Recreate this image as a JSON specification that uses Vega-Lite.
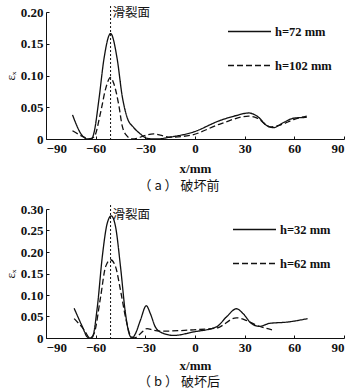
{
  "$schema": "https://vega.github.io/schema/vega-lite/v6.json",
  "padding": {"left": 4, "top": 5, "right": 0, "bottom": 0},
  "spacing": 10,
  "config": {
    "view": {"stroke": null},
    "font": "Liberation Serif",
    "axis": {"labelFont": "Liberation Serif", "labelFontSize": 13, "labelFontWeight": "bold", "labelColor": "#111", "titleFont": "Liberation Serif", "titleFontSize": 13, "titleFontWeight": "bold", "titleColor": "#111", "domainColor": "#111", "tickColor": "#111", "grid": false, "tickSize": -3, "labelPadding": 6, "titlePadding": 7},
    "legend": {"labelFont": "Liberation Serif", "labelFontSize": 12.5, "labelFontWeight": "bold", "labelColor": "#111", "symbolType": "stroke", "symbolStrokeColor": "#111", "symbolStrokeWidth": 1.3, "symbolSize": 1849, "orient": "none", "title": null, "rowPadding": 5, "labelOffset": 3, "padding": 0},
    "title": {"font": "Noto Sans CJK SC", "fontSize": 13, "fontWeight": "normal", "color": "#111", "orient": "bottom", "offset": 5, "dx": -16}
  },
  "datasets": {
    "a": [
      {"x": -74, "y": 0.038, "s": "h=72 mm"},
      {"x": -68, "y": 0.005, "s": "h=72 mm"},
      {"x": -65, "y": 0.0, "s": "h=72 mm"},
      {"x": -62.5, "y": 0.0, "s": "h=72 mm"},
      {"x": -61, "y": 0.01, "s": "h=72 mm"},
      {"x": -58, "y": 0.063, "s": "h=72 mm"},
      {"x": -55, "y": 0.126, "s": "h=72 mm"},
      {"x": -51, "y": 0.166, "s": "h=72 mm"},
      {"x": -47, "y": 0.126, "s": "h=72 mm"},
      {"x": -44, "y": 0.068, "s": "h=72 mm"},
      {"x": -41, "y": 0.034, "s": "h=72 mm"},
      {"x": -37, "y": 0.018, "s": "h=72 mm"},
      {"x": -33, "y": 0.008, "s": "h=72 mm"},
      {"x": -29, "y": 0.001, "s": "h=72 mm"},
      {"x": -23, "y": 0.0, "s": "h=72 mm"},
      {"x": -15, "y": 0.003, "s": "h=72 mm"},
      {"x": -1, "y": 0.011, "s": "h=72 mm"},
      {"x": 15, "y": 0.029, "s": "h=72 mm"},
      {"x": 25, "y": 0.037, "s": "h=72 mm"},
      {"x": 32.5, "y": 0.041, "s": "h=72 mm"},
      {"x": 37.5, "y": 0.036, "s": "h=72 mm"},
      {"x": 43.5, "y": 0.021, "s": "h=72 mm"},
      {"x": 47.5, "y": 0.018, "s": "h=72 mm"},
      {"x": 53.5, "y": 0.026, "s": "h=72 mm"},
      {"x": 60, "y": 0.033, "s": "h=72 mm"},
      {"x": 67.5, "y": 0.034, "s": "h=72 mm"},
      {"x": -74, "y": 0.013, "s": "h=102 mm"},
      {"x": -67, "y": 0.003, "s": "h=102 mm"},
      {"x": -64, "y": 0.0, "s": "h=102 mm"},
      {"x": -61, "y": 0.003, "s": "h=102 mm"},
      {"x": -57, "y": 0.042, "s": "h=102 mm"},
      {"x": -54, "y": 0.079, "s": "h=102 mm"},
      {"x": -51, "y": 0.097, "s": "h=102 mm"},
      {"x": -49, "y": 0.087, "s": "h=102 mm"},
      {"x": -46, "y": 0.053, "s": "h=102 mm"},
      {"x": -44, "y": 0.021, "s": "h=102 mm"},
      {"x": -41.5, "y": 0.006, "s": "h=102 mm"},
      {"x": -38, "y": 0.0, "s": "h=102 mm"},
      {"x": -35, "y": 0.001, "s": "h=102 mm"},
      {"x": -31, "y": 0.005, "s": "h=102 mm"},
      {"x": -25, "y": 0.008, "s": "h=102 mm"},
      {"x": -21, "y": 0.006, "s": "h=102 mm"},
      {"x": -15, "y": 0.003, "s": "h=102 mm"},
      {"x": -2.5, "y": 0.006, "s": "h=102 mm"},
      {"x": 15.5, "y": 0.024, "s": "h=102 mm"},
      {"x": 32.5, "y": 0.036, "s": "h=102 mm"},
      {"x": 37.5, "y": 0.033, "s": "h=102 mm"},
      {"x": 45.5, "y": 0.019, "s": "h=102 mm"},
      {"x": 51.5, "y": 0.022, "s": "h=102 mm"},
      {"x": 60, "y": 0.031, "s": "h=102 mm"},
      {"x": 67.5, "y": 0.036, "s": "h=102 mm"}
    ],
    "b": [
      {"x": -73, "y": 0.069, "s": "h=32 mm"},
      {"x": -68, "y": 0.026, "s": "h=32 mm"},
      {"x": -65, "y": 0.002, "s": "h=32 mm"},
      {"x": -63.5, "y": 0.0, "s": "h=32 mm"},
      {"x": -62, "y": 0.002, "s": "h=32 mm"},
      {"x": -59, "y": 0.072, "s": "h=32 mm"},
      {"x": -56, "y": 0.189, "s": "h=32 mm"},
      {"x": -53, "y": 0.267, "s": "h=32 mm"},
      {"x": -50.6, "y": 0.284, "s": "h=32 mm"},
      {"x": -48, "y": 0.259, "s": "h=32 mm"},
      {"x": -45, "y": 0.166, "s": "h=32 mm"},
      {"x": -42, "y": 0.057, "s": "h=32 mm"},
      {"x": -39.4, "y": 0.006, "s": "h=32 mm"},
      {"x": -38, "y": 0.0, "s": "h=32 mm"},
      {"x": -36, "y": 0.01, "s": "h=32 mm"},
      {"x": -33, "y": 0.041, "s": "h=32 mm"},
      {"x": -29.4, "y": 0.075, "s": "h=32 mm"},
      {"x": -27, "y": 0.057, "s": "h=32 mm"},
      {"x": -24, "y": 0.026, "s": "h=32 mm"},
      {"x": -21, "y": 0.014, "s": "h=32 mm"},
      {"x": -13, "y": 0.006, "s": "h=32 mm"},
      {"x": -1, "y": 0.014, "s": "h=32 mm"},
      {"x": 13, "y": 0.026, "s": "h=32 mm"},
      {"x": 19, "y": 0.049, "s": "h=32 mm"},
      {"x": 25, "y": 0.068, "s": "h=32 mm"},
      {"x": 29, "y": 0.057, "s": "h=32 mm"},
      {"x": 34, "y": 0.034, "s": "h=32 mm"},
      {"x": 39, "y": 0.027, "s": "h=32 mm"},
      {"x": 45, "y": 0.034, "s": "h=32 mm"},
      {"x": 55.6, "y": 0.037, "s": "h=32 mm"},
      {"x": 68, "y": 0.045, "s": "h=32 mm"},
      {"x": -73, "y": 0.045, "s": "h=62 mm"},
      {"x": -67, "y": 0.019, "s": "h=62 mm"},
      {"x": -63.5, "y": 0.0, "s": "h=62 mm"},
      {"x": -61, "y": 0.01, "s": "h=62 mm"},
      {"x": -57, "y": 0.096, "s": "h=62 mm"},
      {"x": -54, "y": 0.166, "s": "h=62 mm"},
      {"x": -51, "y": 0.182, "s": "h=62 mm"},
      {"x": -48, "y": 0.166, "s": "h=62 mm"},
      {"x": -45, "y": 0.111, "s": "h=62 mm"},
      {"x": -42, "y": 0.049, "s": "h=62 mm"},
      {"x": -39, "y": 0.006, "s": "h=62 mm"},
      {"x": -36.5, "y": 0.0, "s": "h=62 mm"},
      {"x": -33, "y": 0.01, "s": "h=62 mm"},
      {"x": -29, "y": 0.022, "s": "h=62 mm"},
      {"x": -25, "y": 0.018, "s": "h=62 mm"},
      {"x": -19, "y": 0.016, "s": "h=62 mm"},
      {"x": -1, "y": 0.019, "s": "h=62 mm"},
      {"x": 13, "y": 0.023, "s": "h=62 mm"},
      {"x": 25, "y": 0.047, "s": "h=62 mm"},
      {"x": 31, "y": 0.041, "s": "h=62 mm"},
      {"x": 37, "y": 0.03, "s": "h=62 mm"},
      {"x": 46.5, "y": 0.019, "s": "h=62 mm"}
    ],
    "slip": [{"x": -51, "label": "滑裂面"}]
  },
  "resolve": {"scale": {"strokeDash": "independent", "y": "independent"}, "legend": {"strokeDash": "independent"}},
  "vconcat": [
    {
      "width": 298,
      "height": 127,
      "title": {"text": "（ a ） 破坏前"},
      "layer": [
        {
          "data": {"name": "a"},
          "mark": {"type": "line", "interpolate": "monotone", "color": "#111", "strokeWidth": 1.3},
          "encoding": {
            "x": {"field": "x", "type": "quantitative", "scale": {"domain": [-90, 90], "nice": false}, "axis": {"values": [-90, -60, -30, 0, 30, 60, 90], "title": "x/mm"}},
            "y": {"field": "y", "type": "quantitative", "scale": {"domain": [0, 0.2], "nice": false}, "axis": {"values": [0, 0.05, 0.1, 0.15, 0.2], "labelExpr": "datum.value == 0 ? '0' : format(datum.value, '.2f')", "title": "εₓ", "titleFontWeight": "normal", "titlePadding": 3}},
            "strokeDash": {"field": "s", "type": "nominal", "scale": {"domain": ["h=72 mm", "h=102 mm"], "range": [[1, 0], [6, 3]]}, "legend": {"legendX": 181, "legendY": -3}}
          }
        },
        {
          "data": {"name": "slip"},
          "mark": {"type": "rule", "color": "#111", "strokeDash": [2, 2], "strokeWidth": 1, "y": -6, "y2": "height"},
          "encoding": {"x": {"field": "x", "type": "quantitative"}}
        },
        {
          "data": {"name": "slip"},
          "mark": {"type": "text", "font": "Noto Sans CJK SC", "fontSize": 12.5, "align": "left", "baseline": "top", "dx": 2, "y": -5, "color": "#111"},
          "encoding": {"x": {"field": "x", "type": "quantitative"}, "text": {"field": "label"}}
        }
      ]
    },
    {
      "width": 298,
      "height": 129,
      "title": {"text": "（ b ） 破坏后", "offset": 4},
      "layer": [
        {
          "data": {"name": "b"},
          "mark": {"type": "line", "interpolate": "monotone", "color": "#111", "strokeWidth": 1.3},
          "encoding": {
            "x": {"field": "x", "type": "quantitative", "scale": {"domain": [-90, 90], "nice": false}, "axis": {"values": [-90, -60, -30, 0, 30, 60, 90], "title": "x/mm", "titlePadding": 5}},
            "y": {"field": "y", "type": "quantitative", "scale": {"domain": [0, 0.3], "nice": false}, "axis": {"values": [0, 0.05, 0.1, 0.15, 0.2, 0.25, 0.3], "labelExpr": "datum.value == 0 ? '0' : format(datum.value, '.2f')", "title": "εₓ", "titleFontWeight": "normal", "titlePadding": 3}},
            "strokeDash": {"field": "s", "type": "nominal", "scale": {"domain": ["h=32 mm", "h=62 mm"], "range": [[1, 0], [6, 3]]}, "legend": {"legendX": 186, "legendY": -2}}
          }
        },
        {
          "data": {"name": "slip"},
          "mark": {"type": "rule", "color": "#111", "strokeDash": [2, 2], "strokeWidth": 1, "y": -4, "y2": "height"},
          "encoding": {"x": {"field": "x", "type": "quantitative"}}
        },
        {
          "data": {"name": "slip"},
          "mark": {"type": "text", "font": "Noto Sans CJK SC", "fontSize": 12.5, "align": "left", "baseline": "top", "dx": 2, "y": 0, "color": "#111"},
          "encoding": {"x": {"field": "x", "type": "quantitative"}, "text": {"field": "label"}}
        }
      ]
    }
  ]
}
